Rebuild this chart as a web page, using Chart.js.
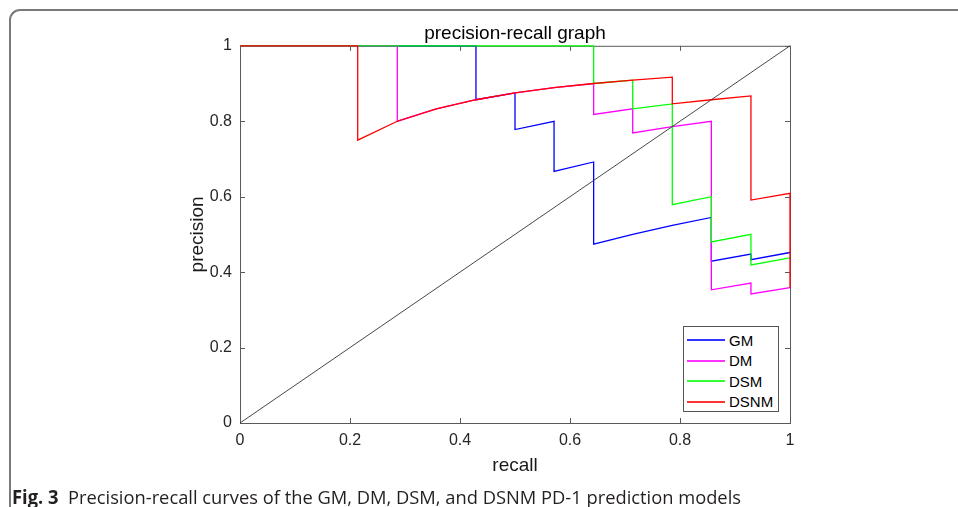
<!DOCTYPE html>
<html>
<head>
<meta charset="utf-8">
<title>precision-recall graph</title>
<script src="https://cdn.jsdelivr.net/npm/chart.js@4.4.1/dist/chart.umd.min.js"></script>
<style>
  html, body { margin: 0; padding: 0; background: #fff; overflow: hidden; }
  body { width: 958px; height: 507px; position: relative; }
  #frame {
    position: absolute; left: 9px; top: 9px; width: 1000px; height: 600px;
    border-top: 2px solid #7a7a7a; border-left: 2px solid #7a7a7a;
    border-top-left-radius: 11px;
  }
  #chart { position: absolute; left: 0; top: 0; }
  #legend {
    position: absolute; left: 683px; top: 326px; width: 96px; height: 86px;
    box-sizing: border-box; border: 1px solid #555; background: #fff;
    font: 15px "Liberation Sans", Arial, sans-serif; color: #000;
  }
  #legend .item { position: absolute; left: 3px; height: 20px; display: flex; align-items: center; white-space: nowrap; }
  #legend .line { display: inline-block; width: 38px; height: 2px; margin-right: 4px; opacity: 0.8; }
  #caption {
    position: absolute; left: 12px; top: 484px; line-height: 20px;
    font: 19px "Open Sans", sans-serif; color: #231f20; white-space: nowrap;
    transform-origin: 0 0;
  }
  #caption b { font-weight: 700; }
</style>
</head>
<body>
<div id="frame"></div>
<canvas id="chart" width="958" height="507"></canvas>
<div id="legend"></div>
<div id="caption"><b>Fig. 3</b>&nbsp; Precision-recall curves of the GM, DM, DSM, and DSNM PD-1 prediction models</div>

<script>
// models, legend order
const categories = ['GM', 'DM', 'DSM', 'DSNM'];
const colors = ['#0000ff', '#ff00ff', '#00ff00', '#ff0000'];
const axisTicks = [0, 0.2, 0.4, 0.6, 0.8, 1];

// values (recall, precision)
const recallGM = [0, 0.429, 0.429, 0.5, 0.5, 0.571, 0.571, 0.643, 0.643, 0.714, 0.786, 0.857, 0.857, 0.929, 0.929, 1];
const precisionGM = [1, 1, 0.857, 0.875, 0.778, 0.8, 0.667, 0.692, 0.474, 0.5, 0.524, 0.545, 0.429, 0.448, 0.433, 0.452];

const recallDM = [0, 0.286, 0.286, 0.357, 0.429, 0.5, 0.571, 0.643, 0.643, 0.714, 0.714, 0.786, 0.857, 0.857, 0.929, 0.929, 1];
const precisionDM = [1, 1, 0.8, 0.833, 0.857, 0.875, 0.889, 0.9, 0.818, 0.833, 0.769, 0.786, 0.8, 0.353, 0.371, 0.342, 0.359];

const recallDSM = [0, 0.643, 0.643, 0.714, 0.714, 0.786, 0.786, 0.857, 0.857, 0.929, 0.929, 1];
const precisionDSM = [1, 1, 0.9, 0.909, 0.833, 0.846, 0.579, 0.6, 0.48, 0.5, 0.419, 0.438];

const recallDSNM = [0, 0.214, 0.214, 0.286, 0.357, 0.429, 0.5, 0.571, 0.643, 0.714, 0.786, 0.786, 0.857, 0.929, 0.929, 1, 1];
const precisionDSNM = [1, 1, 0.75, 0.8, 0.833, 0.857, 0.875, 0.889, 0.9, 0.909, 0.917, 0.846, 0.857, 0.867, 0.591, 0.609, 0.359];

// chance diagonal
const recallChance = [0, 1];
const precisionChance = [0, 1];

const recalls = [recallGM, recallDM, recallDSM, recallDSNM];
const precisions = [precisionGM, precisionDM, precisionDSM, precisionDSNM];

function toPoints(xs, ys) {
  return xs.map((x, i) => ({ x: x, y: ys[i] }));
}

const datasets = categories.map((name, i) => ({
  label: name,
  data: toPoints(recalls[i], precisions[i]),
  borderColor: colors[i],
  borderWidth: 1.3,
  showLine: true,
  pointRadius: 0,
  clip: false,
  order: categories.length - i   // DSNM on top, like matlab plot order
}));
datasets.push({
  label: 'chance',
  data: toPoints(recallChance, precisionChance),
  borderColor: '#333',
  borderWidth: 0.9,
  showLine: true,
  pointRadius: 0,
  clip: false,
  order: 0
});

// matlab style box + inward ticks
const axesBox = {
  id: 'axesBox',
  beforeDatasetsDraw(chart) {
    const { ctx, chartArea: a, scales } = chart;
    ctx.save();
    ctx.strokeStyle = '#5a5a5a';
    ctx.lineWidth = 1;
    ctx.strokeRect(a.left + 0.5, a.top + 0.5, a.right - a.left, a.bottom - a.top);
    const len = 5;
    ctx.beginPath();
    axisTicks.forEach(v => {
      const px = Math.round(scales.x.getPixelForValue(v)) + 0.5;
      ctx.moveTo(px, a.bottom); ctx.lineTo(px, a.bottom - len);
      ctx.moveTo(px, a.top); ctx.lineTo(px, a.top + len);
      const py = Math.round(scales.y.getPixelForValue(v)) + 0.5;
      ctx.moveTo(a.left, py); ctx.lineTo(a.left + len, py);
      ctx.moveTo(a.right, py); ctx.lineTo(a.right - len, py);
    });
    ctx.stroke();
    ctx.restore();
  }
};

const tickFont = { family: '"Liberation Sans", Arial, sans-serif', size: 16 };
const labelFont = { family: '"Liberation Sans", Arial, sans-serif', size: 19 };
const tickText = v => String(Number(v.toFixed(2)));

new Chart(document.getElementById('chart'), {
  type: 'scatter',
  data: { datasets: datasets },
  options: {
    responsive: false,
    animation: false,
    layout: { padding: { top: 22, right: 168, left: 0, bottom: 0 } },
    plugins: {
      legend: { display: false },
      tooltip: { enabled: false },
      title: {
        display: true,
        text: 'precision-recall graph',
        fullSize: false,
        color: '#000',
        font: { family: '"Liberation Sans", Arial, sans-serif', size: 19, weight: 'normal' },
        padding: { top: 0, bottom: 1 }
      }
    },
    scales: {
      x: {
        type: 'linear', min: 0, max: 1,
        afterFit: s => { s.height = 84; },
        grid: { display: false, drawTicks: false },
        border: { display: false },
        ticks: { stepSize: 0.2, color: '#262626', font: tickFont, padding: 8, maxRotation: 0, callback: tickText },
        title: { display: true, text: 'recall', color: '#1a1a1a', font: labelFont, padding: { top: 0, bottom: 30 } }
      },
      y: {
        type: 'linear', min: 0, max: 1,
        afterFit: s => { s.width = 240; },
        grid: { display: false, drawTicks: false },
        border: { display: false },
        ticks: { stepSize: 0.2, color: '#262626', font: tickFont, padding: 8, callback: tickText },
        title: { display: true, text: 'precision', color: '#1a1a1a', font: labelFont, padding: { top: 186, bottom: 0 } }
      }
    }
  },
  plugins: [axesBox]
});

// legend box, built from the same series names/colours
const legend = document.getElementById('legend');
categories.forEach((name, i) => {
  const item = document.createElement('div');
  item.className = 'item';
  item.style.top = (3 + i * 20.5) + 'px';
  const line = document.createElement('span');
  line.className = 'line';
  line.style.backgroundColor = colors[i];
  item.appendChild(line);
  item.appendChild(document.createTextNode(name));
  legend.appendChild(item);
});

// squeeze caption to the figure width (source font is condensed)
const caption = document.getElementById('caption');
const w = caption.getBoundingClientRect().width;
caption.style.transform = 'scaleX(' + (729 / w) + ')';
</script>
</body>
</html>
